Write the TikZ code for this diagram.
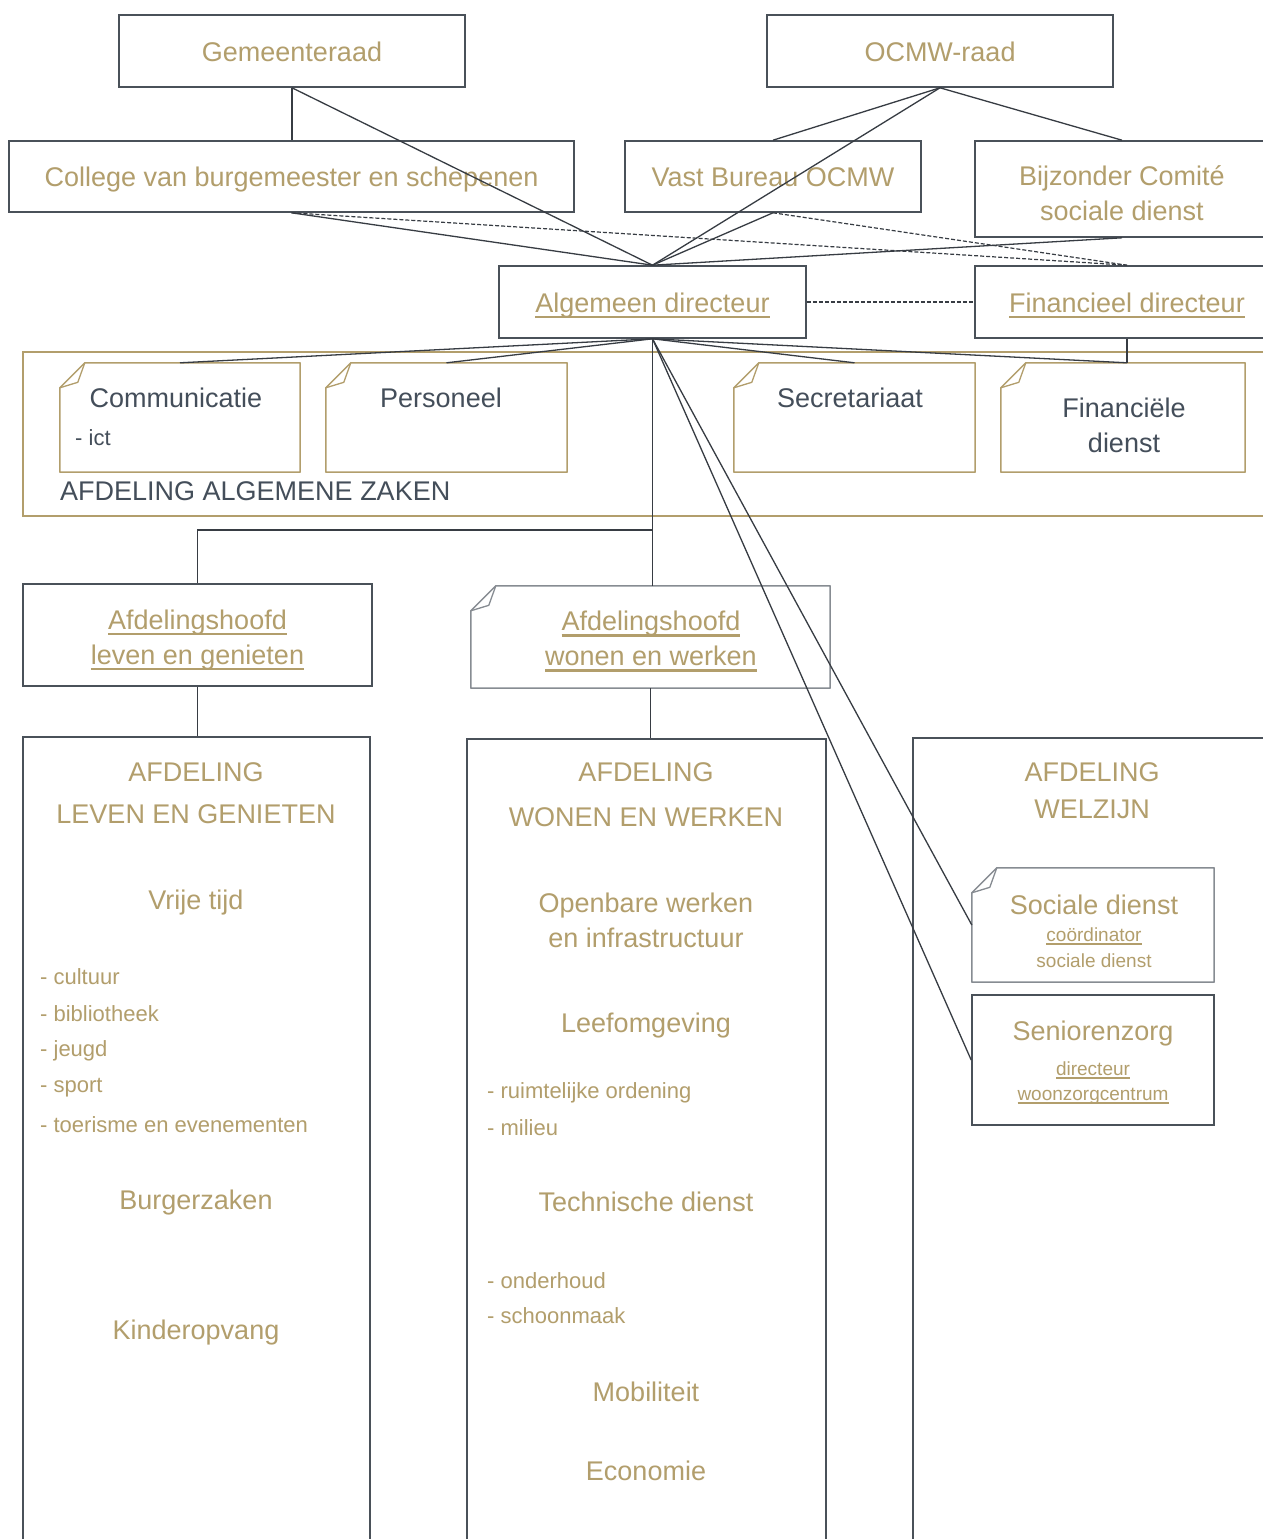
\documentclass[tikz,border=0pt]{standalone}
\usepackage{fontspec}
\setmainfont{Liberation Sans}
\definecolor{gold}{RGB}{178,158,108}
\definecolor{boxc}{RGB}{74,81,89}
\definecolor{linec}{RGB}{55,60,67}
\definecolor{notegray}{RGB}{135,140,146}
\definecolor{darkt}{RGB}{68,78,90}
\newcommand\bigf{\fontsize{27}{35}\selectfont}
\newcommand\listf{\fontsize{22}{26}\selectfont}
\newcommand\smallf{\fontsize{19}{25}\selectfont}
\newcommand\myul[3][6pt]{\setbox0\hbox{#3}\leavevmode\rlap{\copy0}\rule[-#1]{\wd0}{#2}}
\newcommand\notepath[3]{%
  \draw[draw=#2, line width=1.5pt, line join=round]
    ([yshift=-#3]#1.north west) -- ([xshift=#3]#1.north west) -- (#1.north east)
    -- (#1.south east) -- (#1.south west) -- cycle;
  \draw[draw=#2, line width=1.3pt, line join=round]
    ([yshift=-#3]#1.north west) -- ([xshift=0.72*#3,yshift=-0.78*#3]#1.north west)
    -- ([xshift=#3]#1.north west);}
\begin{document}
\begin{tikzpicture}[x=1pt,y=-1pt,
  box/.style={draw=boxc, line width=1.6pt, rectangle, inner sep=0pt, text=gold, font=\bigf, align=center},
  one/.style={text height=20pt, text depth=0pt},
  notebox/.style={rectangle, inner sep=0pt},
  frame/.style={draw=gold, line width=1.5pt, rectangle, inner sep=0pt},
  lbl/.style={inner sep=0pt, text=gold, font=\bigf, align=center},
  dlbl/.style={inner sep=0pt, text=darkt, font=\bigf, align=center},
  item/.style={inner sep=0pt, text=gold, font=\listf, anchor=west},
  conn/.style={draw=linec, line width=1.3pt},
  dconn/.style={draw=linec, line width=1.2pt, dash pattern=on 4pt off 2pt},
]
\useasboundingbox (0,0) rectangle (1263,1539);
\clip (0,0) rectangle (1263,1539);
\fill[white] (0,0) rectangle (1263,1539);

% top level
\node[box, one, minimum width=346, minimum height=72] (gr) at (292,51) {Gemeenteraad};
\node[box, one, minimum width=346, minimum height=72] (or) at (940,51) {OCMW-raad};
\node[box, one, minimum width=565, minimum height=71] (cb) at (291.5,176.5) {College van burgemeester en schepenen};
\node[box, one, minimum width=296, minimum height=71] (vb) at (773,176.5) {Vast Bureau OCMW};
\node[box, minimum width=294, minimum height=96] (bz) at (1122,189) {};
\node[lbl] (bzt) at (1122,193) {Bijzonder Comit\'e\\sociale dienst};
\node[box, one, minimum width=307, minimum height=72] (ad) at (652.5,302) {\myul{2.4pt}{Algemeen directeur}};
\node[box, one, minimum width=304, minimum height=72] (fd) at (1127,302) {\myul{2.4pt}{Financieel directeur}};

% afdeling algemene zaken
\node[frame, minimum width=1260, minimum height=164] (az) at (653,434) {};
\node[dlbl, anchor=base west] (azl) at (60,500.5) {AFDELING ALGEMENE ZAKEN};
\node[notebox, minimum width=240, minimum height=109] (com) at (180,417.5) {};
\node[notebox, minimum width=241, minimum height=109] (per) at (446.5,417.5) {};
\node[notebox, minimum width=241, minimum height=109] (sec) at (854.5,417.5) {};
\node[notebox, minimum width=244, minimum height=109] (fin) at (1123,417.5) {};
\notepath{com}{gold}{25}
\notepath{per}{gold}{25}
\notepath{sec}{gold}{25}
\notepath{fin}{gold}{25}
\node[dlbl] (comt) at (176,398) {Communicatie};
\node[inner sep=0pt, text=darkt, font=\listf, anchor=west] (ict) at (75,438) {- ict};
\node[dlbl] (pert) at (441,398) {Personeel};
\node[dlbl] (sect) at (850,398) {Secretariaat};
\node[dlbl] (fint) at (1124,425.5) {Financi\"ele\\dienst};

% afdelingshoofden
\node[box, minimum width=349, minimum height=102] (ahl) at (197.5,635) {};
\node[lbl] (ahlt) at (197.5,640) {\myul{2.4pt}{Afdelingshoofd}\\\myul{2.4pt}{leven en genieten}};
\node[notebox, minimum width=359, minimum height=102] (ahw) at (650.5,637) {};
\notepath{ahw}{notegray}{25}
\node[lbl] (ahwt) at (651,641.5) {\myul{2.4pt}{Afdelingshoofd}\\\myul{2.4pt}{wonen en werken}};

% afdelingen
\node[box, minimum width=347, minimum height=820, anchor=north] (alg) at (196.5,736) {};
\node[box, minimum width=359, minimum height=820, anchor=north] (awo) at (646.5,738) {};
\node[box, minimum width=380, minimum height=820, anchor=north west] (awz) at (912,737) {};

\node[lbl] at (196,772) {AFDELING};
\node[lbl] at (196,814) {LEVEN EN GENIETEN};
\node[lbl] at (196,903) {Vrije tijd};
\node[item] at (40,977) {- cultuur};
\node[item] at (40,1014) {- bibliotheek};
\node[item] at (40,1051) {- jeugd};
\node[item] at (40,1088) {- sport};
\node[item] at (40,1125) {- toerisme en evenementen};
\node[lbl] at (196,1203) {Burgerzaken};
\node[lbl] at (196,1333) {Kinderopvang};

\node[lbl] at (646,772) {AFDELING};
\node[lbl] at (646,817) {WONEN EN WERKEN};
\node[lbl] at (646,920) {Openbare werken\\en infrastructuur};
\node[lbl] at (646,1026) {Leefomgeving};
\node[item] at (487,1093) {- ruimtelijke ordening};
\node[item] at (487,1128) {- milieu};
\node[lbl] at (646,1202) {Technische dienst};
\node[item] at (487,1281) {- onderhoud};
\node[item] at (487,1316) {- schoonmaak};
\node[lbl] at (646,1392) {Mobiliteit};
\node[lbl] at (646,1471) {Economie};

\node[lbl] at (1092,772) {AFDELING};
\node[lbl] at (1092,809) {WELZIJN};
\node[notebox, minimum width=242, minimum height=114] (sd) at (1093,925) {};
\notepath{sd}{notegray}{25}
\node[lbl] (sdt) at (1094,905) {Sociale dienst};
\node[lbl, font=\smallf] (sdc) at (1094,936) {\myul[3.5pt]{2pt}{co\"ordinator}};
\node[lbl, font=\smallf] (sds) at (1094,961) {sociale dienst};
\node[box, minimum width=242, minimum height=130] (sz) at (1093,1060) {};
\node[lbl] (szt) at (1093,1034) {Seniorenzorg};
\node[lbl, font=\smallf] (szd) at (1093,1070) {\myul[3.5pt]{2pt}{directeur}};
\node[lbl, font=\smallf] (szw) at (1093,1096) {\myul[3.5pt]{2pt}{woonzorgcentrum}};

% connectors top
\draw[conn] (gr.south) -- (gr.south |- cb.north);
\draw[conn] (gr.south) -- (ad.north);
\draw[conn] (or.south) -- (vb.north);
\draw[conn] (or.south) -- (bz.north);
\draw[conn] (or.south) -- (ad.north);
\draw[conn] (cb.south) -- (ad.north);
\draw[conn] (vb.south) -- (ad.north);
\draw[conn] (bz.south) -- (ad.north);
\draw[dconn] (cb.south) -- (fd.north);
\draw[dconn] (vb.south) -- (fd.north);
\draw[dconn] (ad.east) -- (fd.west);

% connectors to services
\coordinate (fj) at (fd.south |- fin.north);
\draw[conn] (fd.south) -- (fj);
\draw[conn] (ad.south) -- (com.north);
\draw[conn] (ad.south) -- (per.north);
\draw[conn] (ad.south) -- (sec.north);
\draw[conn] (ad.south) -- (fj);

% connectors down
\coordinate (j) at (652.5,530);
\draw[conn] (ad.south) -- (ad.south |- ahw.north);
\draw[conn] (j) -| (ahl.north);
\draw[conn] (ahl.south) -- (ahl.south |- alg.north);
\draw[conn] (ahw.south) -- (ahw.south |- awo.north);
\draw[conn] (ad.south) -- (sd.west);
\draw[conn] (ad.south) -- (sz.west);
\end{tikzpicture}
\end{document}
